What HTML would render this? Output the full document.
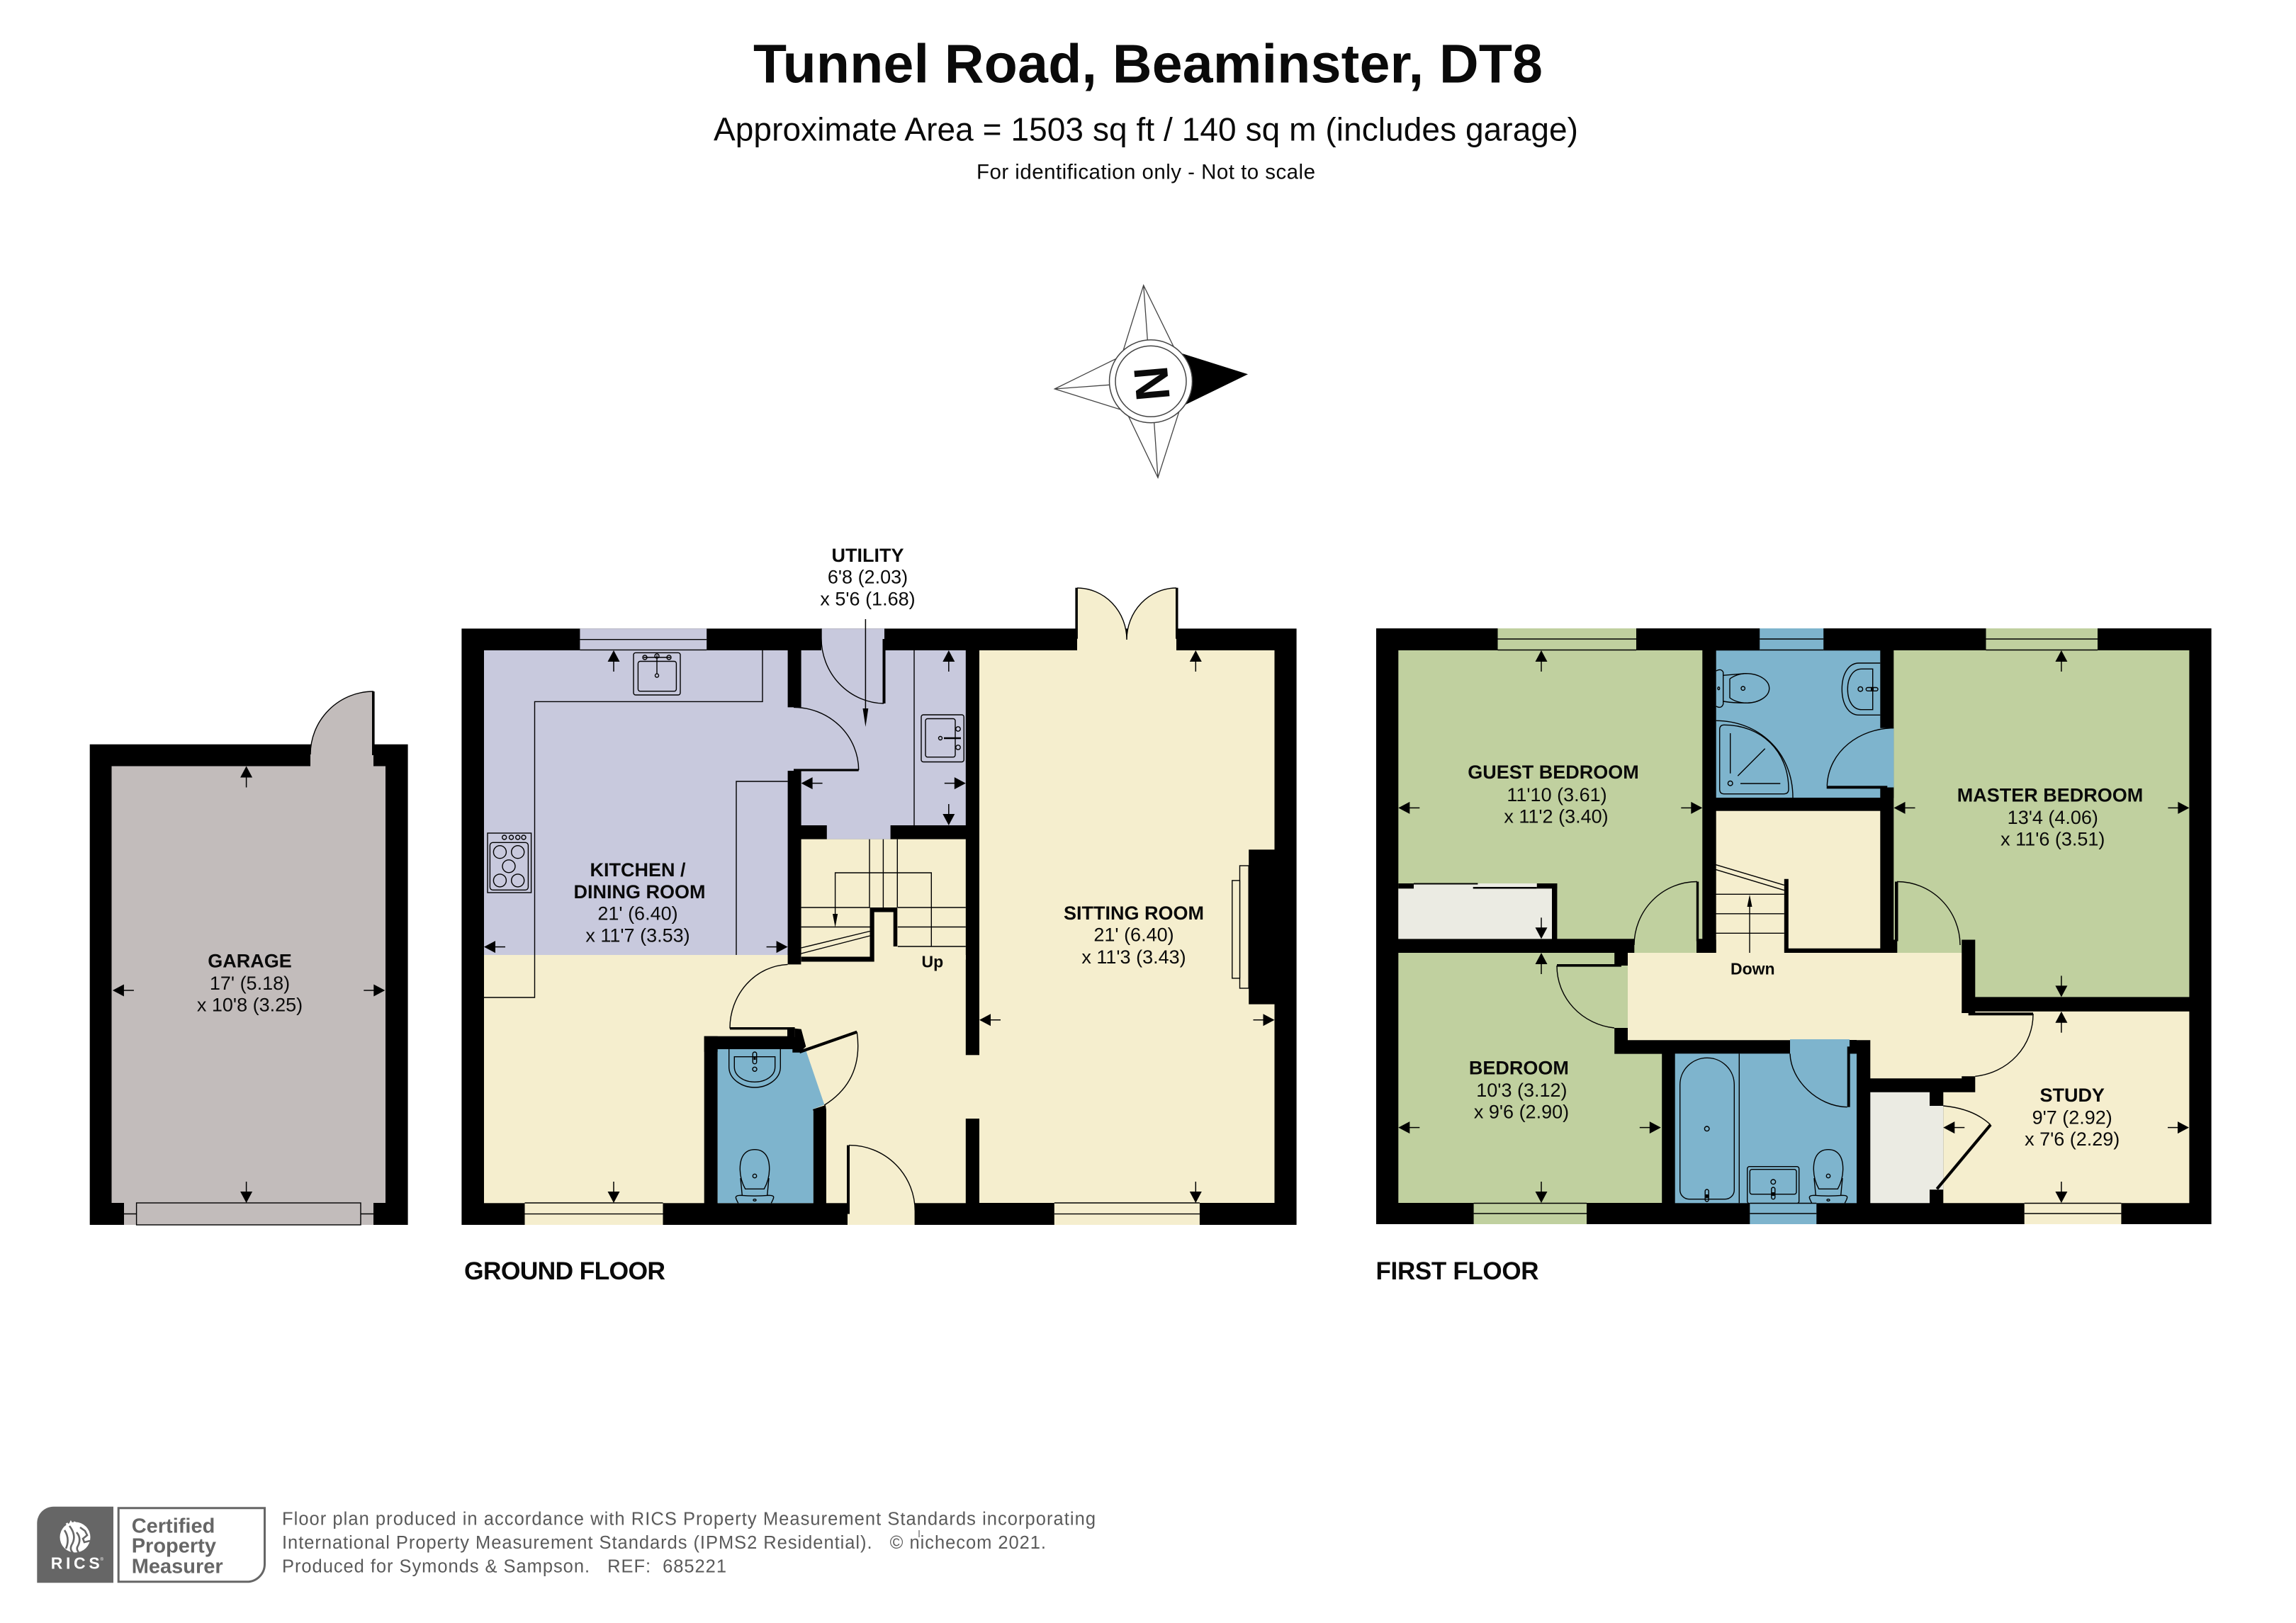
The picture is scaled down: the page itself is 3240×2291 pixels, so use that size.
<!DOCTYPE html>
<html><head><meta charset="utf-8"><title>Tunnel Road, Beaminster, DT8</title>
<style>
html,body{margin:0;padding:0;background:#fff;width:3240px;height:2291px;overflow:hidden}
svg{display:block}
text{font-family:"Liberation Sans",sans-serif;fill:#0a0a0a;white-space:pre}
.b{font-weight:bold;font-size:27px;text-anchor:middle}
.r{font-size:27px;text-anchor:middle}
.l{fill:none;stroke:#000;stroke-width:1.4}
.t{stroke:#000;stroke-width:1.4}
.lav{fill:#c8c9dd}.cr{fill:#f5eece}.bl{fill:#7eb4cd}.gr{fill:#c0d09f}.st{fill:#ebebe3}.ga{fill:#c2bcbb}
.f{font-size:25.5px;fill:#5a5a5a}
.c{font-size:29px;font-weight:bold;fill:#666}
</style></head><body>
<svg xmlns="http://www.w3.org/2000/svg" width="3240" height="2291" viewBox="0 0 3240 2291">
<defs><g id="a"><path d="M0 0L-8.5 16H8.5Z"/><path d="M0 15V30" stroke="#000" stroke-width="1.5"/></g>
<g id="wc" fill="none" stroke="#000" stroke-width="1.4">
<path d="M1051.7 1678.3H1078.3Q1085.7 1665 1085.7 1650C1085.7 1632 1078 1622.7 1065 1622.7C1052 1622.7 1044.3 1632 1044.3 1650Q1044.3 1665 1051.7 1678.3Z"/>
<path d="M1045 1663L1047.3 1687.3M1085 1663L1082.7 1687.3"/>
<path d="M1041.7 1698.3Q1038.3 1692 1038.3 1690Q1039 1687.3 1045 1687.3Q1065 1689 1085 1687.3Q1091.7 1687.3 1091.7 1690Q1091.7 1692 1088.3 1698.3"/>
<circle cx="1065" cy="1660" r="2.7"/><ellipse cx="1065" cy="1694" rx="2" ry="1.3"/>
</g></defs>
<rect width="3240" height="2291" fill="#fff"/>

<!-- header -->
<text x="1620" y="116.7" text-anchor="middle" font-weight="bold" font-size="77" textLength="1114">Tunnel Road, Beaminster, DT8</text>
<text x="1617" y="198.3" text-anchor="middle" font-size="46" textLength="1220">Approximate Area = 1503 sq ft / 140 sq m (includes garage)</text>
<text x="1617" y="252.7" text-anchor="middle" font-size="29.5" textLength="478">For identification only - Not to scale</text>

<!-- compass -->
<g fill="#fff" stroke="#444" stroke-width="1.3">
<path d="M1613.7 402.7L1585 495L1656 489ZM1613.7 402.7L1619.3 480"/>
<path d="M1488.3 549L1574.3 506.7L1580 577.7ZM1488.3 549L1565.3 543.3"/>
<path d="M1634 674.3L1592.3 587.3L1663.3 582.7ZM1634 674.3L1628.7 596.7"/>
</g>
<path d="M1761 528.3L1667.3 498.7L1673.3 571Z" fill="#000"/>
<circle cx="1624" cy="538.3" r="58.5" fill="#fff" stroke="#444" stroke-width="1.5"/>
<circle cx="1624" cy="538.3" r="50" fill="#fff" stroke="#444" stroke-width="1.5"/>
<text transform="translate(1600,519) rotate(85)" x="0" y="0" font-weight="bold" font-size="68">N</text>

<!-- GARAGE -->
<rect x="126.7" y="1050.7" width="448.9" height="678.3" fill="#000"/>
<rect x="157.5" y="1081.5" width="386.5" height="616.5" class="ga"/>
<path d="M527 976A89 89 0 0 0 438 1065V1082H527Z" class="ga"/>
<path d="M527 976A89 89 0 0 0 438 1065" class="l"/>
<rect x="525" y="976" width="3.6" height="90"/>
<rect x="175" y="1698" width="352" height="31" class="ga"/>
<path d="M175 1713.5H527" class="l"/>
<rect x="192.6" y="1698" width="316.4" height="31" class="ga t"/>

<!-- GROUND FLOOR -->
<rect x="651.4" y="887.3" width="1178.2" height="841.7" fill="#000"/>
<rect x="683" y="918" width="428.6" height="430" class="lav"/>
<rect x="683" y="1348" width="679.8" height="350.3" class="cr"/>
<rect x="1130.6" y="918" width="232.2" height="247" class="lav"/>
<rect x="1166.8" y="1165" width="89.8" height="19.6" class="lav"/>
<rect x="1111" y="998.4" width="20" height="89.6" class="lav"/>
<rect x="1159" y="887.3" width="89" height="32" class="lav"/>
<rect x="1130.6" y="1184.6" width="232.2" height="170" class="cr"/>
<rect x="1111.6" y="1340" width="18.8" height="21.4"/>
<!-- WC walls -->
<rect x="993.7" y="1462.7" width="127" height="22"/>
<rect x="993.7" y="1462.7" width="19" height="236"/>
<path d="M1146.7 1566L1165 1560L1166 1566.7V1699H1147.7V1568Z"/>
<path d="M1012.7 1481H1136.7L1163.3 1559.3L1146.7 1566L1147.7 1568V1698.3H1012.7Z" class="bl"/>
<rect x="1030" y="1450" width="91.6" height="3.4"/>
<rect x="1111" y="1452" width="10.6" height="12"/>
<path d="M1121.6 1451.7L1130.7 1452.7L1137.3 1477.3L1128.3 1485.7H1118.3V1481H1111V1464H1121.6Z"/>
<path d="M1030 1451.8A85 90 0 0 1 1111.6 1361.4" class="l"/>
<path d="M1128.3 1485L1209.3 1456.7" stroke="#000" stroke-width="4.2"/>
<path d="M1209.3 1456.7Q1219 1525 1163.3 1560" class="l"/>
<!-- sitting -->
<rect x="1382" y="918" width="416.5" height="780" class="cr"/>
<rect x="1362" y="1489.3" width="21" height="89.7" class="cr"/>
<rect x="1762.2" y="1199.3" width="36.5" height="218.3"/>
<rect x="1749.5" y="1222" width="12.7" height="173" class="cr t"/>
<rect x="1738.8" y="1242.9" width="10.7" height="138" class="cr t"/>
<path d="M1520 830A70 73 0 0 1 1590 903A70 73 0 0 1 1660 830V919H1520Z" class="cr"/>
<path d="M1520 830A70 73 0 0 1 1590 903A70 73 0 0 1 1660 830" class="l"/>
<rect x="1517.4" y="829.7" width="3.5" height="72"/><rect x="1659" y="829.7" width="3.5" height="72"/>
<rect x="1487.8" y="1698" width="205.1" height="31" class="cr"/><path d="M1487.8 1698H1692.9M1487.8 1713.6H1692.9" class="l"/>
<!-- kitchen window etc -->
<rect x="818.4" y="887.3" width="178.8" height="30.7" class="lav"/><path d="M818.4 902.7H997.2M818.4 917.4H997.2" class="l"/>
<rect x="740.5" y="1698" width="195" height="31" class="cr"/><path d="M740.5 1698H935.5M740.5 1713.6H935.5" class="l"/>
<path d="M1076 918V990.4H754.5V1408H683" class="l"/>
<path d="M1039 1348V1103H1111.6" class="l"/>
<!-- kitchen sink -->
<rect x="894" y="921.4" width="66" height="59.6" rx="3" class="l"/>
<rect x="900.4" y="933.5" width="54" height="42.2" rx="3" class="l"/>
<path d="M908 928H946M927 925V951" class="l" stroke-width="2.5"/><circle cx="927" cy="953.6" r="2.5" class="l"/>
<circle cx="910" cy="928" r="3" class="l"/><circle cx="944" cy="928" r="3" class="l"/><circle cx="927" cy="926" r="3" class="l"/>
<!-- cooker -->
<rect x="688" y="1176" width="61.6" height="84" class="l"/>
<rect x="691.4" y="1189.3" width="54" height="67" rx="4" class="l"/>
<circle cx="711.7" cy="1182" r="3" class="l"/><circle cx="721.5" cy="1182" r="3" class="l"/><circle cx="730.7" cy="1182" r="3" class="l"/><circle cx="739" cy="1182" r="3" class="l"/>
<circle cx="705.4" cy="1202.7" r="9" class="l"/><circle cx="730.7" cy="1202.7" r="9" class="l"/><circle cx="718" cy="1222.8" r="9" class="l"/><circle cx="705.4" cy="1242.9" r="9" class="l"/><circle cx="730.7" cy="1242.9" r="9" class="l"/>
<!-- kitchen to utility door -->
<path d="M1120 998.4A92 89 0 0 1 1211.7 1087H1120Z" class="lav"/>
<path d="M1120 998.4A92 89 0 0 1 1211.7 1087" class="l"/>
<rect x="1120" y="1085.4" width="91.7" height="3.2"/>
<!-- utility top door -->
<path d="M1159 887.3V901A90 92 0 0 0 1247 993" class="l"/>
<rect x="1245.5" y="902" width="4" height="91"/>
<path d="M1221.4 874V1000" stroke="#000" stroke-width="1.5"/><path d="M1221.4 1026L1217.5 1000H1225.3Z"/>
<path d="M1290 918V1165" class="l"/>
<!-- utility sink -->
<rect x="1300" y="1009" width="60.2" height="66.5" rx="3" class="l"/>
<rect x="1306" y="1014.5" width="42" height="54.2" rx="3" class="l"/>
<path d="M1332 1042H1356" stroke="#000" stroke-width="2.5"/><circle cx="1327" cy="1042" r="2.5" class="l"/>
<circle cx="1352" cy="1029" r="3.2" class="l"/><circle cx="1352" cy="1055" r="3.2" class="l"/>
<!-- stairs -->
<path d="M1227 1184.6V1281M1246.4 1184.6V1281M1266.3 1184.6V1281M1130.6 1281H1227.5M1130.6 1308.5H1227.5M1266.8 1281H1362.8M1266.8 1308.5H1362.8M1266.8 1336H1362.8" class="l"/>
<path d="M1178.6 1290V1232H1314.3V1336" class="l"/><path d="M1178.6 1309L1175 1290H1182.2Z"/>
<path d="M1130.6 1338L1227.5 1314.5M1130.6 1346L1227.5 1321" class="l"/>
<path d="M1130.6 1350.5H1227.5V1281H1266.3V1336H1260.7V1287.5H1233.7V1357.5H1130.6Z"/>
<!-- front door -->
<path d="M1198 1616.6A93 93 0 0 1 1291.3 1710V1729H1196V1616.6Z" class="cr"/>
<path d="M1198 1616.6A93 93 0 0 1 1291.3 1710V1729" class="l"/>
<rect x="1195" y="1616.6" width="4" height="97"/>
<!-- WC fittings -->
<path d="M1028.7 1481V1506C1028.7 1524 1048 1535 1065 1535C1082 1535 1101.3 1524 1101.3 1506V1481" class="l"/>
<path d="M1036.3 1491.7H1093.7V1506C1093.7 1519 1080 1527.3 1065 1527.3C1050 1527.3 1036.3 1519 1036.3 1506Z" class="l"/>
<rect x="1062.3" y="1485" width="5.4" height="16.7" rx="2.7" class="l"/><path d="M1065 1491V1496" stroke="#000" stroke-width="3"/><circle cx="1065" cy="1509.3" r="3" class="l"/>
<use href="#wc"/>

<!-- FIRST FLOOR -->
<rect x="1942" y="887" width="1178.6" height="841" fill="#000"/>
<rect x="1973.3" y="918" width="429" height="407.3" class="gr"/>
<rect x="1973.3" y="1254.3" width="216.7" height="71" class="st"/>
<rect x="1995" y="1247" width="173.8" height="8" class="st"/>
<rect x="1973.3" y="1247" width="21.7" height="7.3"/>
<rect x="2168.8" y="1247" width="28.6" height="7.3"/>
<rect x="2190" y="1247" width="7.4" height="79"/>
<rect x="1995" y="1246.5" width="90.4" height="2"/><rect x="2078.7" y="1252" width="90.1" height="2.5"/>
<rect x="2306.3" y="1325" width="88" height="20.5" class="gr"/>
<path d="M2395 1244.5A89 90 0 0 0 2306 1334" class="l"/>
<rect x="2393.8" y="1244.5" width="3.4" height="84"/>
<!-- bedroom -->
<path d="M1973.3 1345H2278.2V1363H2297V1451H2278.2V1487.6H2345.2V1698H1973.3Z" class="gr"/>
<path d="M2197 1363A91 88 0 0 0 2278 1451" class="l"/>
<rect x="2197" y="1361" width="91" height="3.6"/>
<!-- landing -->
<path d="M2297 1345H2768.3V1430H2790V1519.3H2768.3V1522.3H2639.3V1468.3H2297Z" class="cr"/>
<!-- master -->
<path d="M2672.3 918H3089.4V1407.4H2787.3V1326.5H2768.3V1345H2675.8V1330H2672.3Z" class="gr"/>
<rect x="2653.3" y="1326.5" width="24" height="18.5"/>
<rect x="2674" y="1244.5" width="4.5" height="84"/>
<path d="M2677 1244.5A89 90 0 0 1 2766 1334" class="l"/>
<!-- study -->
<path d="M2787.3 1427.7H3089.4V1698.3H2742.3V1561H2742.3V1541.7H2787.3Z" class="cr"/>
<rect x="2768.3" y="1427" width="9.4" height="3"/>
<rect x="2777.7" y="1429.3" width="91.3" height="4"/>
<path d="M2869 1431A91 88 0 0 1 2787.3 1519.3" class="l"/>
<!-- study closet -->
<path d="M2639.3 1541.7H2723V1561H2742.3V1679.3H2723V1698.3H2639.3Z" class="st"/>
<path d="M2742.3 1561Q2785 1565 2809 1587.7" class="l"/>
<path d="M2733.3 1678.3L2809 1587.7" stroke="#000" stroke-width="4.2"/>
<!-- en suite -->
<rect x="2421.7" y="918.3" width="231.6" height="207.7" class="bl"/>
<path d="M2653 1027.7H2672.3V1112H2653Z" class="bl"/>
<path d="M2672.3 1027.7C2625 1027.7 2580 1060 2578.3 1109.3V1110H2672.3Z" class="bl"/>
<path d="M2672.3 1027.7C2625 1027.7 2580 1060 2578.3 1109.3" class="l"/>
<rect x="2577.7" y="1109.3" width="85.6" height="4"/>
<rect x="2663.3" y="1111.5" width="9" height="15"/>
<!-- stairwell -->
<rect x="2421.7" y="1144.7" width="231.6" height="200.3" class="cr"/>
<path d="M2421 1262.3H2517.8M2421 1289.8H2517.8M2421 1317.3H2517.8M2421 1220.6L2517.8 1249.4M2421 1227.4L2517.8 1256.7" class="l"/>
<path d="M2469 1345V1280" class="l"/><path d="M2469 1262.9L2465.5 1280H2472.5Z"/>
<path d="M2517.8 1240.8H2523.8V1338.8H2653.8V1345H2517.8Z"/>
<rect x="2394" y="1326.5" width="27.7" height="18.5"/>
<!-- bathroom -->
<rect x="2363.7" y="1487.3" width="256.3" height="211" class="bl"/>
<rect x="2526" y="1467" width="84" height="22" class="bl"/>
<path d="M2526 1487.3C2527 1525 2565 1562 2606.7 1562.7" class="l"/>
<rect x="2606.7" y="1477.3" width="4" height="85.4"/>
<rect x="2610" y="1468" width="10" height="19.3"/>
<path d="M2454.3 1487.3V1698.3" class="l"/>
<path d="M2370.7 1531.3A38.3 38 0 0 1 2447.3 1531.3V1679.7A13 13 0 0 1 2434.3 1692.7H2383.7A13 13 0 0 1 2370.7 1679.7Z" class="l"/>
<circle cx="2408.7" cy="1593.3" r="3.3" class="l"/>
<rect x="2406.2" y="1679" width="5" height="17" rx="2.5" class="l"/><path d="M2408.7 1686V1691" stroke="#000" stroke-width="3.5"/>
<rect x="2465.7" y="1646.7" width="73" height="52" rx="3" class="l"/>
<rect x="2469.3" y="1650.7" width="65.7" height="35" rx="3" class="l"/>
<circle cx="2502.3" cy="1668.3" r="3.3" class="l"/>
<rect x="2499.8" y="1676" width="5" height="16.7" rx="2.5" class="l"/><path d="M2502.3 1683V1688" stroke="#000" stroke-width="3.5"/>
<use href="#wc" transform="translate(1515,0)"/>
<!-- en suite fittings -->
<path d="M2421.7 947Q2429 943 2431.7 949V994Q2429 1001 2421.7 997" class="l"/><ellipse cx="2425.3" cy="971.7" rx="1.3" ry="2" class="l"/>
<path d="M2431.7 953.3L2463.3 950.7C2482 950.7 2496.7 960 2496.7 971.7C2496.7 983 2482 992.3 2465 992.3Q2445 992.3 2431.7 990" class="l"/>
<path d="M2441 958.3V985Q2450 992 2465 992.3M2441 958.3Q2450 951.5 2463.3 950.7" class="l"/>
<circle cx="2459.7" cy="971.7" r="2.7" class="l"/>
<path d="M2653.3 936H2623.3C2608 936 2599.3 952 2599.3 972.7C2599.3 993 2608 1009.3 2623.3 1009.3H2653.3" class="l"/>
<path d="M2642.7 944.3H2627C2615 944.3 2607.3 956 2607.3 972.7C2607.3 990 2615 1001.7 2627 1001.7H2642.7Z" class="l"/>
<circle cx="2625.3" cy="972.7" r="3.3" class="l"/>
<rect x="2633.3" y="970.5" width="16.7" height="4.8" rx="2.4" class="l"/><path d="M2640 972.7H2644" stroke="#000" stroke-width="3.5"/>
<path d="M2421.7 1017.3C2480 1017.3 2530 1060 2530 1126" class="l"/>
<path d="M2426.7 1030Q2426.7 1023.3 2433 1023.3C2485 1023.3 2524 1060 2524 1114Q2524 1120.7 2517 1120.7H2433Q2426.7 1120.7 2426.7 1114Z" class="l"/>
<path d="M2441.7 1035V1091.7M2452.3 1095.3L2490.7 1056.7M2456 1106H2512.3" class="l"/><circle cx="2441.7" cy="1105.7" r="3.3" class="l"/>
<!-- first floor windows -->
<rect x="2113.5" y="887" width="195.5" height="31" class="gr"/><path d="M2113.5 902H2309M2113.5 917.5H2309" class="l"/>
<rect x="2483.2" y="887" width="90" height="31.5" class="bl"/><path d="M2483.2 902H2573.2M2483.2 917.5H2573.2" class="l"/>
<rect x="2802.5" y="887" width="157.5" height="31" class="gr"/><path d="M2802.5 902H2960M2802.5 917.5H2960" class="l"/>
<rect x="2079.6" y="1698" width="159.4" height="30" class="gr"/><path d="M2079.6 1698.5H2239M2079.6 1713H2239" class="l"/>
<rect x="2469.3" y="1698" width="94" height="30" class="bl"/><path d="M2469.3 1698.5H2563.3M2469.3 1713H2563.3" class="l"/>
<rect x="2856.7" y="1698" width="136.7" height="30" class="cr"/><path d="M2856.7 1698.5H2993.4M2856.7 1713H2993.4" class="l"/>

<!-- arrows -->
<use href="#a" transform="translate(347.6,1081.5)"/>
<use href="#a" transform="translate(347.6,1698) rotate(180)"/>
<use href="#a" transform="translate(158.9,1398) rotate(270)"/>
<use href="#a" transform="translate(543.3,1398) rotate(90)"/>
<use href="#a" transform="translate(866,918)"/>
<use href="#a" transform="translate(866,1698) rotate(180)"/>
<use href="#a" transform="translate(683,1336.6) rotate(270)"/>
<use href="#a" transform="translate(1111.6,1336.6) rotate(90)"/>
<use href="#a" transform="translate(1338.8,918)"/>
<use href="#a" transform="translate(1338.8,1165) rotate(180)"/>
<use href="#a" transform="translate(1130.6,1105.6) rotate(270)"/>
<use href="#a" transform="translate(1362.8,1105.6) rotate(90)"/>
<use href="#a" transform="translate(1687.3,918)"/>
<use href="#a" transform="translate(1687.3,1698) rotate(180)"/>
<use href="#a" transform="translate(1382,1439.7) rotate(270)"/>
<use href="#a" transform="translate(1798.5,1439.7) rotate(90)"/>
<use href="#a" transform="translate(2175,918)"/>
<use href="#a" transform="translate(2175,1325.3) rotate(180)"/>
<use href="#a" transform="translate(1973.3,1140.4) rotate(270)"/>
<use href="#a" transform="translate(2402.3,1140.4) rotate(90)"/>
<use href="#a" transform="translate(2175,1345)"/>
<use href="#a" transform="translate(2175,1698) rotate(180)"/>
<use href="#a" transform="translate(1973.3,1591.6) rotate(270)"/>
<use href="#a" transform="translate(2343.8,1591.6) rotate(90)"/>
<use href="#a" transform="translate(2908.9,918)"/>
<use href="#a" transform="translate(2908.9,1407.4) rotate(180)"/>
<use href="#a" transform="translate(2672.5,1140.4) rotate(270)"/>
<use href="#a" transform="translate(3089.4,1140.4) rotate(90)"/>
<use href="#a" transform="translate(2908.9,1427.7)"/>
<use href="#a" transform="translate(2908.9,1698) rotate(180)"/>
<use href="#a" transform="translate(2742.3,1591.6) rotate(270)"/>
<use href="#a" transform="translate(3089,1591.6) rotate(90)"/>

<!-- labels -->
<text class="b" x="352.5" y="1365.5">GARAGE</text>
<text class="r" x="352.5" y="1397">17' (5.18)</text>
<text class="r" x="352.5" y="1427.5">x 10'8 (3.25)</text>
<text class="b" x="900" y="1237">KITCHEN /</text>
<text class="b" x="902.5" y="1267.8">DINING ROOM</text>
<text class="r" x="900" y="1298.5">21' (6.40)</text>
<text class="r" x="900" y="1329.4">x 11'7 (3.53)</text>
<text class="b" x="1224.5" y="793">UTILITY</text>
<text class="r" x="1224.5" y="823.5">6'8 (2.03)</text>
<text class="r" x="1224.5" y="854.5">x 5'6 (1.68)</text>
<text class="b" x="1600" y="1298">SITTING ROOM</text>
<text class="r" x="1600" y="1328.7">21' (6.40)</text>
<text class="r" x="1600" y="1360">x 11'3 (3.43)</text>
<text x="1315.8" y="1365.5" text-anchor="middle" font-weight="bold" font-size="23">Up</text>
<text x="2473.3" y="1375.5" text-anchor="middle" font-weight="bold" font-size="23">Down</text>
<text class="b" x="2192" y="1099">GUEST BEDROOM</text>
<text class="r" x="2197" y="1131">11'10 (3.61)</text>
<text class="r" x="2196" y="1161.5">x 11'2 (3.40)</text>
<text class="b" x="2143.4" y="1516.5">BEDROOM</text>
<text class="r" x="2147.4" y="1548">10'3 (3.12)</text>
<text class="r" x="2147" y="1578.5">x 9'6 (2.90)</text>
<text class="b" x="2893" y="1131.5">MASTER BEDROOM</text>
<text class="r" x="2896.8" y="1163">13'4 (4.06)</text>
<text class="r" x="2896.8" y="1193.5">x 11'6 (3.51)</text>
<text class="b" x="2924.2" y="1555">STUDY</text>
<text class="r" x="2924.2" y="1586.5">9'7 (2.92)</text>
<text class="r" x="2924.2" y="1617">x 7'6 (2.29)</text>
<text x="655" y="1806" font-weight="bold" font-size="35.5" textLength="284">GROUND FLOOR</text>
<text x="1941.5" y="1806" font-weight="bold" font-size="35" textLength="230">FIRST FLOOR</text>

<!-- footer -->
<path d="M52.3 2150A23.3 23.3 0 0 1 75.6 2126.7H160V2234.3H52.3Z" fill="#666"/>
<path d="M167.2 2128.8H373.5V2208A25 25 0 0 1 348.5 2232.8H167.2Z" fill="#fff" stroke="#666" stroke-width="3"/>
<circle cx="106" cy="2170" r="21.5" fill="#fff"/>
<path d="M94 2150L97 2155L100 2149L103 2154L106 2148" fill="none" stroke="#fff" stroke-width="3"/>
<path d="M98 2154Q109 2168 101 2181Q98 2187 103 2192M91 2160Q99 2172 93 2186M108 2163Q116 2172 109 2184Q108 2188 111 2191M113 2156L120 2161L123 2167L117 2172L119 2177L127 2175" fill="none" stroke="#666" stroke-width="2.6"/>
<text x="71.7" y="2214.3" font-weight="bold" font-size="23" style="fill:#fff" textLength="69">RICS</text>
<text x="141.5" y="2203" font-size="6" style="fill:#fff">®</text>
<text class="c" x="185.7" y="2163.3">Certified</text>
<text class="c" x="185.7" y="2191.5">Property</text>
<text class="c" x="185.7" y="2220.5">Measurer</text>
<text class="f" x="398" y="2152.7" textLength="1148">Floor plan produced in accordance with RICS Property Measurement Standards incorporating</text>
<text class="f" x="398" y="2186" textLength="1078">International Property Measurement Standards (IPMS2 Residential).   © nichecom 2021.</text>
<text class="f" x="398" y="2219.3" textLength="627">Produced for Symonds &amp; Sampson.   REF:  685221</text>
<path d="M1297 2160V2170" stroke="#5a5a5a" stroke-width="1.2"/>
</svg>
</body></html>
